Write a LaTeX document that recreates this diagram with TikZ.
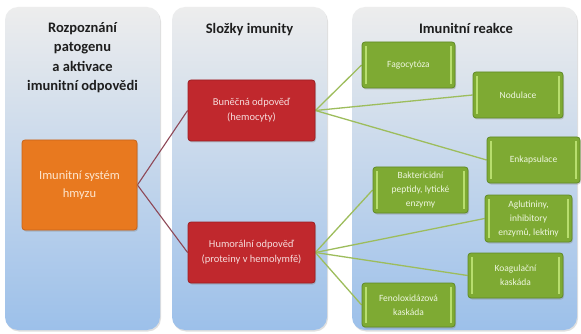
\documentclass[tikz,border=0pt]{standalone}
\usepackage{fontspec}
\setmainfont{Carlito}
\usetikzlibrary{shadows,backgrounds}
\definecolor{panTop}{HTML}{EDEDED}
\definecolor{panBot}{HTML}{9CC0EA}
\definecolor{orFill}{HTML}{E8791F}
\definecolor{orDraw}{HTML}{C8641A}
\definecolor{orText}{HTML}{FDE6CF}
\definecolor{rdFill}{HTML}{C0282D}
\definecolor{rdDraw}{HTML}{9C1E22}
\definecolor{rdText}{HTML}{F6DCDC}
\definecolor{grFill}{HTML}{7EAA33}
\definecolor{grDraw}{HTML}{5F8A26}
\definecolor{grStripe}{HTML}{B8DE6E}
\definecolor{grText}{HTML}{EEF6DF}
\definecolor{lnRed}{HTML}{8E4857}
\definecolor{lnGreen}{HTML}{9DBD5C}
\definecolor{hdText}{HTML}{1E1E1E}
\pgfdeclarelayer{panels}
\pgfdeclarelayer{lines}
\pgfsetlayers{panels,lines,main}
\tikzset{
  panel/.style={top color=panTop, bottom color=panBot, rounded corners=13pt,
    drop shadow={opacity=0.25, shadow xshift=1pt, shadow yshift=-1.5pt}},
  header/.style={font=\bfseries\fontsize{14.5}{19.5}\selectfont, text=hdText, align=center, inner sep=0pt},
  box/.style={rounded corners=3pt, line width=0.8pt, align=center, inner sep=2pt,
    drop shadow={opacity=0.35, shadow xshift=1pt, shadow yshift=-1.5pt}},
  obox/.style={box, fill=orFill, draw=orDraw, text=orText, font=\fontsize{12.5}{18}\selectfont},
  rbox/.style={box, fill=rdFill, draw=rdDraw, text=rdText, font=\fontsize{10.5}{15}\selectfont,
    minimum width=127pt, minimum height=61pt},
  gbox/.style={box, fill=grFill, draw=grDraw, text=grText, font=\fontsize{9.5}{14}\selectfont,
    path picture={
      \draw[grStripe, line width=1.3pt]
        ([xshift=4pt,yshift=-4pt]path picture bounding box.north west) --
        ([xshift=4pt,yshift=4pt]path picture bounding box.south west);
      \draw[grStripe, line width=1.3pt]
        ([xshift=-4pt,yshift=-4pt]path picture bounding box.north east) --
        ([xshift=-4pt,yshift=4pt]path picture bounding box.south east);
    }},
  rline/.style={lnRed, line width=1.1pt},
  gline/.style={lnGreen, line width=1.3pt},
}
\begin{document}
\begin{tikzpicture}[x=1pt,y=-1pt]
\useasboundingbox (0,0) rectangle (581,334);
\begin{pgfonlayer}{panels}
\fill[white] (0,0) rectangle (581,334);
\shade[panel] (5,7) rectangle (160,330);
\shade[panel] (172,7) rectangle (327,330);
\shade[panel] (352,7) rectangle (577,330);
\end{pgfonlayer}

\node[header] (h1) at (82.5,57.5) {Rozpoznání\\patogenu\\a aktivace\\imunitní odpovědi};
\node[header] (h2) at (249.5,30) {Složky imunity};
\node[header] (h3) at (466,28) {Imunitní reakce};

\node[obox, minimum width=115pt, minimum height=90pt] (imun) at (79.5,185) {Imunitní systém\\hmyzu};

\node[rbox] (bun) at (251.5,110.5) {Buněčná odpověď\\(hemocyty)};
\node[rbox] (hum) at (251.5,252.5) {Humorální odpověď\\(proteiny v hemolymfě)};

\node[gbox, minimum width=93pt, minimum height=46pt] (fag) at (408.5,65) {Fagocytóza};
\node[gbox, minimum width=90pt, minimum height=46pt] (nod) at (518,95) {Nodulace};
\node[gbox, minimum width=93pt, minimum height=46pt] (enk) at (533.5,160) {Enkapsulace};
\node[gbox, minimum width=95pt, minimum height=46pt] (bak) at (420.5,190) {Baktericidní\\peptidy, lytické\\enzymy};
\node[gbox, minimum width=87pt, minimum height=47pt] (agl) at (528.5,218.5) {Aglutininy,\\inhibitory\\enzymů, lektiny};
\node[gbox, minimum width=95pt, minimum height=45pt] (koa) at (515.5,275.5) {Koagulační\\kaskáda};
\node[gbox, minimum width=93pt, minimum height=44pt] (fen) at (408.5,305) {Fenoloxidázová\\kaskáda};

\begin{pgfonlayer}{lines}
\draw[rline] (imun.east) -- (bun.west);
\draw[rline] (imun.east) -- (hum.west);
\draw[gline] (bun.east) -- (fag.west);
\draw[gline] (bun.east) -- (nod.west);
\draw[gline] (bun.east) -- (enk.west);
\draw[gline] (hum.east) -- (bak.west);
\draw[gline] (hum.east) -- (agl.west);
\draw[gline] (hum.east) -- (koa.west);
\draw[gline] (hum.east) -- (fen.west);
\end{pgfonlayer}
\end{tikzpicture}
\end{document}
